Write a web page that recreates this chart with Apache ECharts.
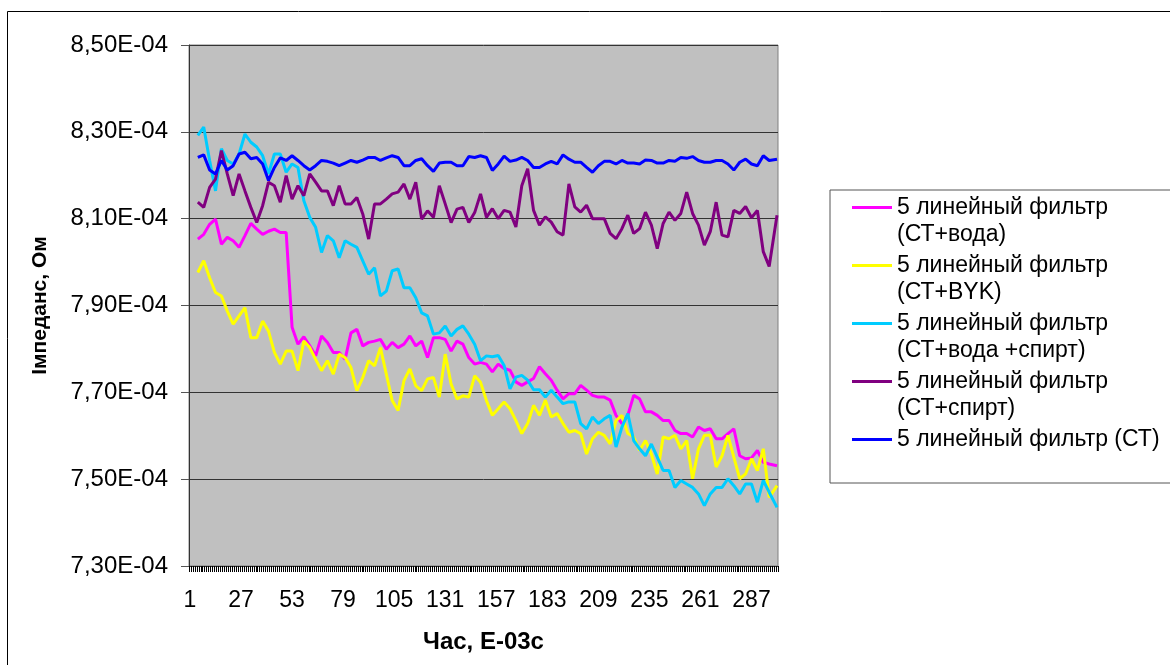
<!DOCTYPE html>
<html><head><meta charset="utf-8">
<style>html,body{margin:0;padding:0;background:#fff}#c{width:1170px;height:665px}</style>
<script src="https://cdn.jsdelivr.net/npm/echarts@6/dist/echarts.min.js"></script>
</head><body><div id="c"></div>
<script>
// Time categories 1..300; curves read every third category from 5 on
const categories = Array.from({length:300},(_,k)=>String(k+1));
const sampleCats = [5,8,11,14,17,20,23,26,29,32,35,38,41,44,47,50,53,56,59,62,65,68,71,74,77,80,83,86,89,92,95,98,101,104,107,110,113,116,119,122,125,128,131,134,137,140,143,146,149,152,155,158,161,164,167,170,173,176,179,182,185,188,191,194,197,200,203,206,209,212,215,218,221,224,227,230,233,236,239,242,245,248,251,254,257,260,263,266,269,272,275,278,281,284,287,290,293,296,300];
const yTicks = [7.3,7.5,7.7,7.9,8.1,8.3,8.5];
// values in units of 1E-04 Ohm
const ctWater = [8.053,8.064,8.087,8.099,8.041,8.057,8.049,8.034,8.061,8.089,8.076,8.064,8.071,8.076,8.068,8.068,7.850,7.811,7.828,7.807,7.784,7.830,7.815,7.792,7.792,7.776,7.837,7.845,7.807,7.815,7.818,7.822,7.799,7.815,7.803,7.811,7.830,7.807,7.818,7.780,7.826,7.826,7.822,7.795,7.818,7.811,7.780,7.765,7.769,7.765,
7.747,7.765,7.755,7.751,7.724,7.716,7.724,7.732,7.759,7.743,7.728,7.705,7.685,7.697,7.697,7.716,7.705,7.693,7.689,7.689,7.682,7.647,7.628,7.647,7.693,7.685,7.655,7.655,7.647,7.635,7.635,7.612,7.605,7.605,7.597,7.620,7.612,7.616,7.593,7.593,7.605,7.616,7.554,7.547,7.549,7.566,7.539,7.535,7.531];
const ctByk = [7.976,8.003,7.964,7.930,7.922,7.887,7.857,7.876,7.895,7.826,7.826,7.864,7.841,7.792,7.765,7.795,7.795,7.750,7.818,7.803,7.776,7.750,7.773,7.742,7.788,7.780,7.757,7.704,7.734,7.773,7.761,7.803,7.742,7.681,7.658,7.727,7.754,7.715,7.704,7.731,7.734,7.689,7.788,7.719,7.685,7.692,7.689,7.738,7.723,7.681,
7.647,7.662,7.678,7.662,7.635,7.605,7.628,7.670,7.647,7.682,7.643,7.651,7.628,7.608,7.612,7.605,7.558,7.593,7.608,7.601,7.581,7.635,7.647,7.605,7.597,7.566,7.589,7.558,7.512,7.597,7.593,7.601,7.570,7.589,7.501,7.570,7.601,7.601,7.528,7.554,7.601,7.551,7.501,7.512,7.547,7.520,7.570,7.458,7.485];
const ctWaterSpirit = [8.292,8.311,8.234,8.164,8.261,8.234,8.226,8.249,8.295,8.276,8.265,8.245,8.203,8.249,8.249,8.207,8.226,8.218,8.141,8.103,8.080,8.022,8.061,8.049,8.010,8.049,8.041,8.034,8.003,7.972,7.987,7.922,7.933,7.980,7.984,7.941,7.941,7.918,7.883,7.876,7.834,7.837,7.853,7.830,7.845,7.853,7.834,7.811,7.773,7.784,
7.782,7.785,7.762,7.708,7.735,7.739,7.728,7.706,7.706,7.689,7.705,7.689,7.674,7.678,7.678,7.628,7.616,7.643,7.628,7.639,7.647,7.574,7.620,7.651,7.589,7.570,7.554,7.581,7.551,7.520,7.520,7.481,7.497,7.489,7.481,7.466,7.439,7.466,7.481,7.481,7.501,7.485,7.466,7.489,7.489,7.447,7.497,7.470,7.435];
const ctSpirit = [8.138,8.126,8.172,8.191,8.257,8.203,8.153,8.203,8.164,8.126,8.091,8.130,8.184,8.176,8.138,8.199,8.145,8.176,8.153,8.203,8.184,8.164,8.164,8.130,8.176,8.134,8.134,8.149,8.111,8.053,8.134,8.134,8.145,8.157,8.161,8.180,8.145,8.184,8.099,8.118,8.103,8.176,8.134,8.091,8.122,8.126,8.091,8.114,8.157,8.103,
8.123,8.100,8.119,8.115,8.081,8.176,8.215,8.119,8.085,8.104,8.092,8.070,8.062,8.180,8.127,8.115,8.131,8.100,8.100,8.100,8.066,8.054,8.077,8.108,8.066,8.077,8.115,8.085,8.031,8.089,8.115,8.096,8.112,8.161,8.112,8.085,8.039,8.070,8.138,8.062,8.058,8.119,8.112,8.128,8.102,8.119,8.024,7.990,8.108];
const ct = [8.241,8.247,8.212,8.203,8.234,8.212,8.222,8.249,8.253,8.238,8.241,8.226,8.188,8.218,8.240,8.234,8.245,8.234,8.222,8.212,8.222,8.234,8.232,8.228,8.222,8.228,8.234,8.230,8.235,8.241,8.241,8.234,8.240,8.245,8.241,8.222,8.222,8.234,8.238,8.222,8.209,8.228,8.230,8.230,8.222,8.222,8.243,8.241,8.245,8.241,
8.211,8.226,8.244,8.232,8.235,8.241,8.234,8.218,8.218,8.226,8.232,8.226,8.247,8.237,8.230,8.230,8.218,8.207,8.222,8.232,8.232,8.226,8.234,8.228,8.228,8.226,8.235,8.234,8.228,8.228,8.234,8.232,8.241,8.239,8.243,8.234,8.230,8.230,8.234,8.234,8.226,8.212,8.230,8.237,8.226,8.222,8.245,8.234,8.237];
const seriesNames = ['5 линейный фильтр\n(СТ+вода)','5 линейный фильтр\n(СТ+BYK)','5 линейный фильтр\n(СТ+вода +спирт)','5 линейный фильтр\n(СТ+спирт)','5 линейный фильтр (СТ)\n '];
const seriesValues = [ctWater,ctByk,ctWaterSpirit,ctSpirit,ct];
const seriesColors = ['#ff00ff','#ffff00','#00ccff','#800080','#0000ff'];
const fmtY = v => v.toFixed(2).replace('.',',')+'E-04';
const FONT = '"Liberation Sans", Arial, sans-serif';
const icon = 'path://M0 0L0 0ZM40 54L40 54ZM0 12H40V15H0Z';
const chart = echarts.init(document.getElementById('c'),null,{renderer:'canvas'});
chart.setOption({
  animation:false,
  textStyle:{fontFamily:FONT},
  graphic:[{type:'rect',z:-1,silent:true,shape:{x:7.5,y:11.5,width:1300,height:800},style:{fill:'none',stroke:'#000',lineWidth:1}}],
  grid:{left:189,top:45,width:589,height:521,show:true,backgroundColor:'#c0c0c0',borderColor:'#808080',borderWidth:1,containLabel:false},
  legend:{orient:'vertical',left:830,top:190,padding:[4,60,3,22],itemWidth:40,itemHeight:54,itemGap:4,
    backgroundColor:'#fff',borderColor:'#555',borderWidth:1,selectedMode:false,
    textStyle:{fontFamily:FONT,fontSize:23,lineHeight:27,color:'#000'},
    data:seriesNames.map(n=>({name:n,icon:icon}))},
  xAxis:{type:'category',data:categories,boundaryGap:true,
    name:'Час, E-03с',nameLocation:'middle',nameGap:64,nameTextStyle:{fontFamily:FONT,fontWeight:'bold',fontSize:24,color:'#000'},
    axisLine:{onZero:false,lineStyle:{color:'#333',width:1}},
    axisTick:{show:true,interval:0,length:6,alignWithLabel:false,lineStyle:{color:'#000',width:1}},
    axisLabel:{interval:25,margin:23,fontFamily:FONT,fontSize:23,color:'#000',showMinLabel:true},
    splitLine:{show:false}},
  yAxis:{type:'value',min:7.3,max:8.5,
    name:'Імпеданс, Ом',nameLocation:'middle',nameGap:138,nameRotate:90,nameTextStyle:{fontFamily:FONT,fontWeight:'bold',fontSize:21,color:'#000'},
    axisLine:{show:true,lineStyle:{color:'#333',width:1}},
    axisTick:{show:true,length:8,customValues:yTicks,lineStyle:{color:'#555',width:1}},
    axisLabel:{margin:21,fontFamily:FONT,fontSize:24,color:'#000',customValues:yTicks,formatter:fmtY},
    splitLine:{show:true,lineStyle:{color:'#333',width:1}}},
  series:seriesNames.map((n,s)=>({name:n,type:'line',showSymbol:false,symbol:'none',smooth:false,
    lineStyle:{color:seriesColors[s],width:3},itemStyle:{color:seriesColors[s]},
    data:sampleCats.map((c,j)=>[String(c),seriesValues[s][j]])}))
});
</script></body></html>
